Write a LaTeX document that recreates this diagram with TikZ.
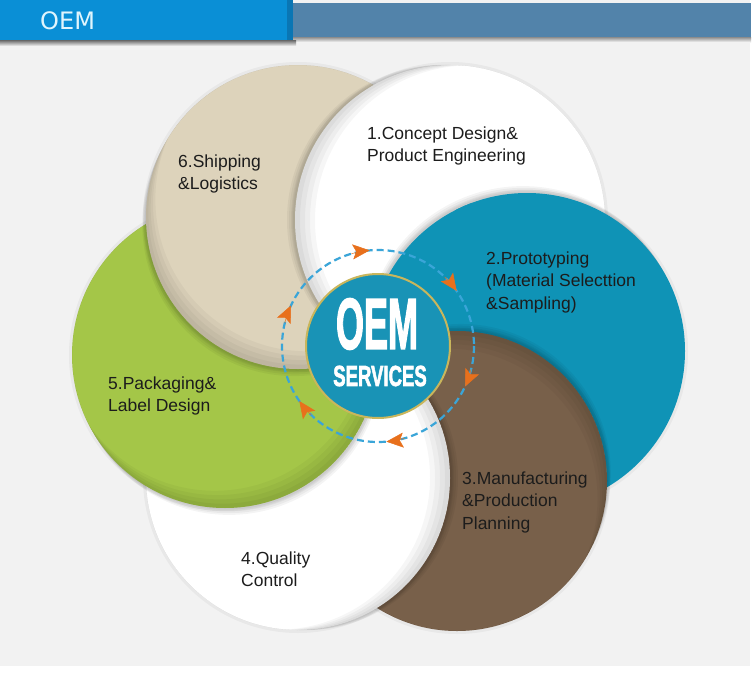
\documentclass[tikz,border=0pt]{standalone}
\usepackage{fontspec}
\setmainfont{Liberation Sans}
\newfontfamily\headfont{DejaVu Sans}
\newfontfamily\corefont{Liberation Sans}[UprightFont={* Bold}, FakeBold=2.5]
\usetikzlibrary{arrows.meta, positioning, calc}

\definecolor{pagegray}{HTML}{F2F2F2}
\definecolor{tabblue}{HTML}{0A8FD6}
\definecolor{tabedge}{HTML}{0A76B4}
\definecolor{barblue}{HTML}{5283AA}
\definecolor{tanfill}{HTML}{DDD3BB}
\definecolor{tealfill}{HTML}{0F93B6}
\definecolor{brownfill}{HTML}{78604A}
\definecolor{greenfill}{HTML}{A4C648}
\definecolor{coreteal}{HTML}{1993B6}
\definecolor{coreedge}{HTML}{C9B65C}
\definecolor{loopblue}{HTML}{3AA5D8}
\definecolor{arrorange}{HTML}{E8701C}
\definecolor{textdark}{HTML}{1C1C1C}

% centre, radius, disc it lies on
\newcommand\discshadow[3]{%
  \foreach \s in {2pt,4pt,6pt,8pt}
    \fill[black, opacity=0.045] ($(#1)!\s!(#3)$) circle[radius=#2];
  \fill[black, opacity=0.04] (#1) circle[radius=#2+3];
}
% centre, radius, colour, disc it lies on, rim shade
\newcommand\discbody[5]{%
  \fill[#3] (#1) circle[radius=#2];
  \begin{scope}
    \clip (#1) circle[radius=#2];
    \foreach \s in {5pt,10pt,15pt,20pt}
      \fill[black, opacity=#5, even odd rule] (#1) circle[radius=#2] ($(#1)!-\s!(#4)$) circle[radius=#2];
  \end{scope}
}

\begin{document}
\begin{tikzpicture}[x=1pt, y=-1pt,
    lbl/.style={font=\fontsize{17.5}{22.5}\selectfont, text=textdark, align=left, anchor=west, inner sep=0pt},
    looparr/.style={arrorange, line width=0.5pt, -{Stealth[length=17pt, width=15pt, inset=3.5pt]}}
]
\useasboundingbox (0,0) rectangle (755,680);
\fill[white] (0,0) rectangle (755,680);
\fill[pagegray] (0,0) rectangle (750,666);

% header
\shade[top color=black!45, bottom color=pagegray] (293,37) rectangle (751,42);
\fill[barblue] (293,3) rectangle (751,37);
\shade[top color=black!60, bottom color=pagegray] (0,40) rectangle (296,46);
\fill[tabblue] (0,0) rectangle (293,40);
\fill[tabedge] (287,0) rectangle (293,40);
\node[font=\headfont\fontsize{24}{24}\selectfont, text=white!88!cyan, anchor=west, inner sep=0pt] (title) at (40,21) {OEM};

% the six discs, each one lying on the one before
\coordinate (c1) at (450,220);
\coordinate (c2) at (527,351);
\coordinate (c3) at (457,481);
\coordinate (c4) at (298,478);
\coordinate (c5) at (225,355);
\coordinate (c6) at (298,217);
\foreach \c/\r/\col/\under/\rim in {c1/155/white/c6/0.035, c2/158/tealfill/c1/0, c3/150/brownfill/c2/0.03,
    c4/152/white/c3/0.035, c5/153/greenfill/c4/0.035, c6/152/tanfill/c5/0.035} {
  \discshadow{\c}{\r}{\under}
  \discbody{\c}{\r}{\col}{\under}{\rim}
}
% disc 1 back over disc 6
\begin{scope}
  \clip (c6) circle[radius=152];
  \discshadow{c1}{155}{c6}
\end{scope}
\begin{scope}
  \clip (c6) circle[radius=158];
  \discbody{c1}{155}{white}{c6}{0.035}
  \discshadow{c2}{158}{c1}
\end{scope}
\begin{scope}
  \clip (c6) circle[radius=175];
  \fill[tealfill] (c2) circle[radius=158];
\end{scope}

% centre
\node[circle, minimum size=144, fill=coreteal, draw=coreedge, line width=2, inner sep=0] (core) at (378,346) {};
\draw[loopblue, line width=2.2pt, dash pattern=on 7pt off 4pt] (core.center) circle[radius=96];
\foreach \a in {-100,-40,20,80,140,200}
  \draw[looparr] (core.center) ++(\a-6:96) arc[start angle=\a-6, end angle=\a+5, radius=96];
\node[font=\corefont\fontsize{72}{72}\selectfont, text=white, xscale=0.5, inner sep=0] (oem) at (377,324) {OEM};
\node[font=\corefont\fontsize{29}{29}\selectfont, text=white, xscale=0.64, inner sep=0] (services) at (380,376) {SERVICES};

% labels
\node[lbl] (t1) at (367,146) {1.Concept Design\&\\Product Engineering};
\node[lbl] (t2) at (486,282) {2.Prototyping\\(Material Selecttion\\\&Sampling)};
\node[lbl] (t3) at (462,502) {3.Manufacturing\\\&Production\\Planning};
\node[lbl] (t4) at (241,569) {4.Quality\\Control};
\node[lbl] (t5) at (108,396) {5.Packaging\&\\Label Design};
\node[lbl] (t6) at (178,174) {6.Shipping\\\&Logistics};
\end{tikzpicture}
\end{document}
